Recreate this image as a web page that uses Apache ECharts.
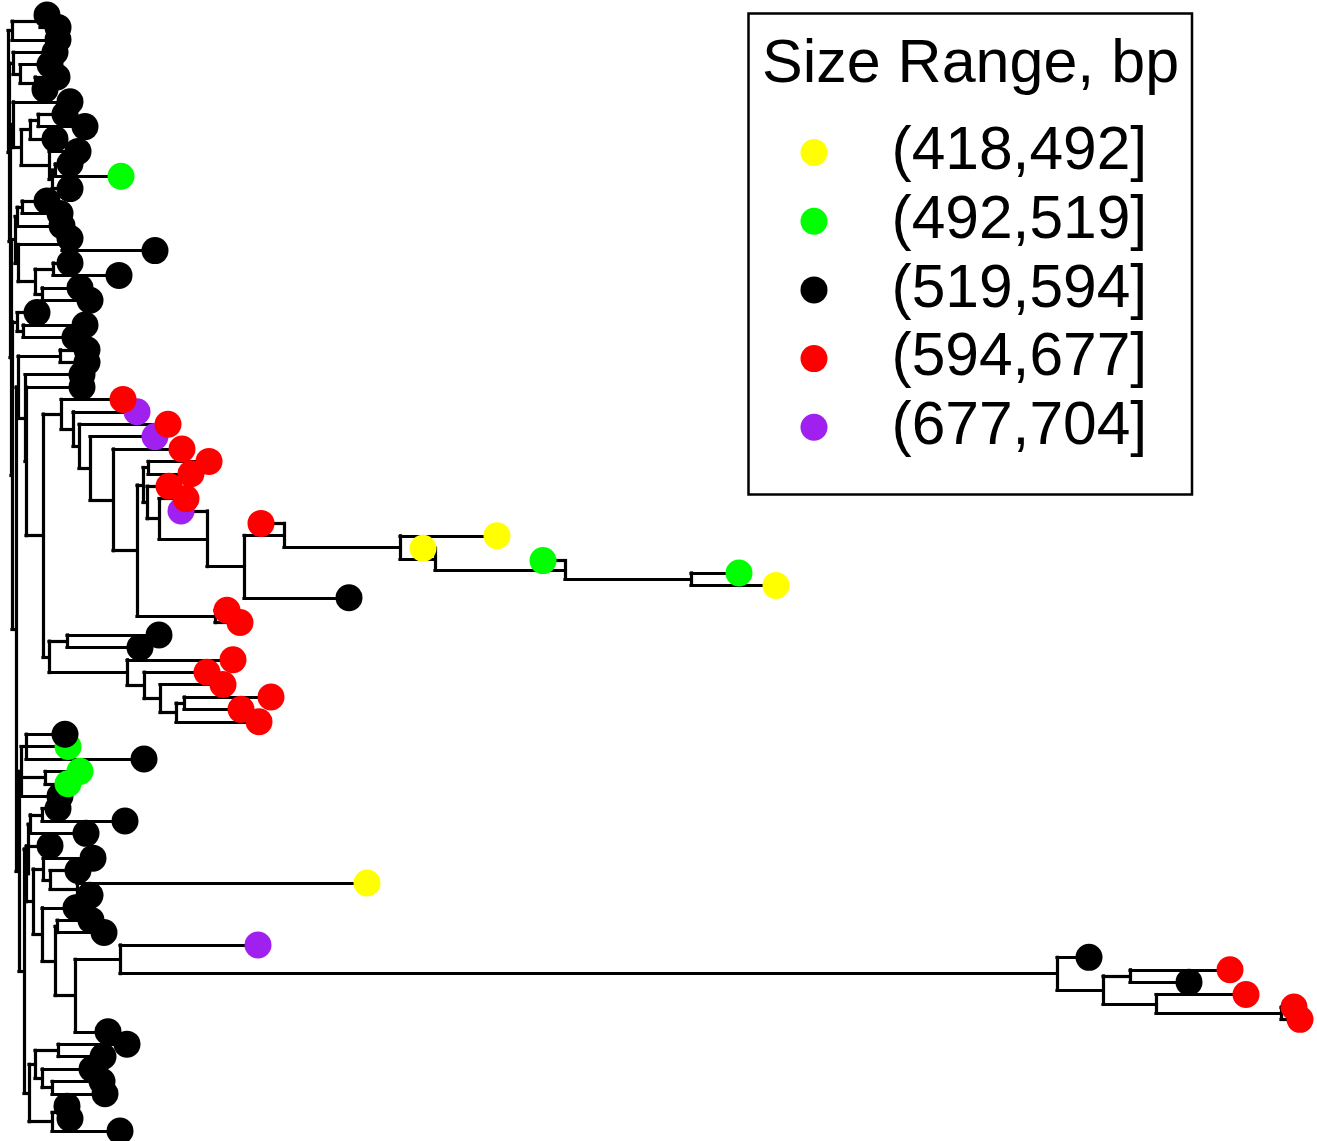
<!DOCTYPE html>
<html><head><meta charset="utf-8">
<script src="https://cdn.jsdelivr.net/npm/echarts@6/dist/echarts.min.js"></script>
<style>html,body{margin:0;padding:0;background:#fff}#c{width:1317px;height:1141px}</style>
</head><body><div id="c"></div><script>
// ---- data ----
const legendTitle = 'Size Range, bp';
const groupLabels = ['(418,492]', '(492,519]', '(519,594]', '(594,677]', '(677,704]'];
const groupColors = ['#FFFF00', '#00FF00', '#000000', '#FF0000', '#A020F0'];
// tip depth (distance from root) for tips 0..90, top to bottom
const tipX = [47,58,58,55,50,57,45,70,65,85,55,78,70,121,70,47,60,62,70,155,
  70,119,80,90,37,85,75,87,87,82,82,123,137,168,155,182,209,191,169,186,
  181,261,497,423,543,739,776,349,227,240,159,140,233,207,223,271,241,259,65,68,
  144,80,68,60,58,125,86,50,93,78,367,90,76,91,104,258,1089,1230,1189,1246,
  1294,1300,108,127,103,92,102,105,67,70,120];
// size-range group of each tip (index into groupLabels)
const tipGroup = [2,2,2,2,2,2,2,2,2,2,2,2,2,1,2,2,2,2,2,2,
  2,2,2,2,2,2,2,2,2,2,2,3,4,3,4,3,3,3,3,3,
  4,3,0,0,1,1,0,2,3,3,2,2,3,3,3,3,3,3,2,1,
  2,1,1,2,2,2,2,2,2,2,0,2,2,2,2,4,2,3,2,3,
  3,3,2,2,2,2,2,2,2,2,2];
// topology: tips by index, "(...)d" = internal node at depth d
const cladeTop1 = '((0,1)40,2)12';
const cladeTop2 = '(3,(4,(5,6)35)20)13';
const cladeTop3 = '(7,(((8,9)38,10)30,(11,((12,13)55,14)52)49)21)13';
const cladeTop4 = '(((15,16)22,17)17,((18,19)62,((20,21)53,(22,23)42)35)18)15';
const cladeTop5 = '(24,(25,26)23)17';
const cladeLongA = '(41,(42,(43,(44,(45,46)691)565)435)400)284';
const cladeRedA = `(31,(32,(33,(34,(35,(((36,37)148,(38,(39,(40,(${cladeLongA},47)244)207)159)147)143,(48,49)215)137)113)90)79)73)61`;
const cladeRedB = '((50,51)67,(52,(53,(54,((55,56)184,57)176)160)144)127)49';
const cladeMid = `((27,28)60,(29,(30,(${cladeRedA},${cladeRedB})43)26)25)18`;
const cladeBot1 = '((58,59,60)26,(61,62)45,63)21';
const cladeLongB = '(76,((77,78)1130,(79,(80,81)1281)1156)1103)1057';
const cladeBot2 = `(((64,65)42,66)30,(67,((68,(69,(70,71)77)50)43,(72,((73,74)57,((75,${cladeLongB})120,82)75)55)42)33)26)28`;
const cladeBot3 = '(((83,84)58,(85,(86,87)52)42)35,((88,89)60,90)52)29';
const treeTopology = `(${cladeTop1},(${cladeTop2},(${cladeTop3},(${cladeTop4},(${cladeTop5},(${cladeMid},(${cladeBot1},(${cladeBot2},${cladeBot3})24)19)16)12)11)10)9)8`;

// ---- build tree ----
function parseTree(s) {
  let p = 0;
  function num() { const st = p; while (p < s.length && /[0-9.]/.test(s[p])) p++; return parseFloat(s.slice(st, p)); }
  function node() {
    if (s[p] === '(') {
      p++;
      const ch = [node()];
      while (s[p] === ',') { p++; ch.push(node()); }
      p++;
      return { children: ch, x: num() };
    }
    const i = num();
    return { tip: i, x: tipX[i], y: i };
  }
  return node();
}
const root = parseTree(treeTopology);
const segments = [];
function layout(n) {
  if (!n.children) return n.y;
  n.children.forEach(layout);
  const first = n.children[0], last = n.children[n.children.length - 1];
  n.y = (first.y + last.y) / 2;
  segments.push({ coords: [[n.x, first.y], [n.x, last.y]] });
  n.children.forEach(c => segments.push({ coords: [[n.x, c.y], [c.x, c.y]] }));
  return n.y;
}
layout(root);
const tipData = [];
for (let i = tipX.length - 1; i >= 0; i--) {
  tipData.push({ value: [tipX[i], i], itemStyle: { color: groupColors[tipGroup[i]], opacity: 1 } });
}

const chart = echarts.init(document.getElementById('c'), null, { renderer: 'canvas' });
const FONT = '"Liberation Sans", Arial, sans-serif';
chart.setOption({
  animation: false,
  backgroundColor: '#ffffff',
  grid: { left: 0, right: 0, top: 0, bottom: 0, containLabel: false },
  xAxis: { type: 'value', min: 0, max: 1317, show: false },
  yAxis: { type: 'value', inverse: true, min: -1.21, max: 90.81, show: false },
  legend: {
    orient: 'vertical', left: 800.5, top: 122, padding: 0, itemGap: 7.7,
    itemWidth: 27, itemHeight: 27, icon: 'circle', selectedMode: false,
    data: groupLabels,
    itemStyle: { opacity: 1 },
    textStyle: { fontSize: 60.5, fontFamily: FONT, color: '#000', lineHeight: 60, padding: [0, 0, 0, 59] }
  },
  graphic: [
    { type: 'rect', shape: { x: 748.5, y: 13.5, width: 443.5, height: 481 },
      style: { fill: 'none', stroke: '#000', lineWidth: 2.5 }, z: 10 },
    { type: 'text', x: 762, y: 65, z: 10,
      style: { text: legendTitle, font: '61px ' + FONT, fill: '#000', verticalAlign: 'middle', align: 'left' } }
  ],
  series: [
    { type: 'lines', coordinateSystem: 'cartesian2d', silent: true, z: 1,
      lineStyle: { color: '#000', width: 3.2, opacity: 1, cap: 'square' }, data: segments },
    { type: 'scatter', silent: true, z: 2, symbol: 'circle', symbolSize: 27,
      itemStyle: { opacity: 1 }, data: tipData },
    ...groupLabels.map((l, k) => ({ type: 'scatter', name: l, data: [],
      itemStyle: { color: groupColors[k], opacity: 1 } }))
  ]
});
</script></body></html>
